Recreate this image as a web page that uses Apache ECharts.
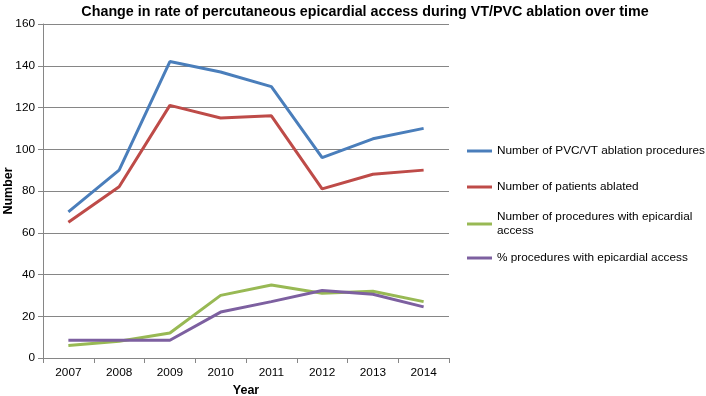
<!DOCTYPE html>
<html><head><meta charset="utf-8">
<script src="https://cdn.jsdelivr.net/npm/echarts@6/dist/echarts.min.js"></script>
<style>html,body{margin:0;padding:0;background:#fff}#c{width:706px;height:396px}</style>
</head><body><div id="c"></div>
<script>
var years = ['2007','2008','2009','2010','2011','2012','2013','2014'];
var seriesNames = ['Number of PVC/VT ablation procedures','Number of patients ablated','Number of procedures with epicardial access','% procedures with epicardial access'];
var procedures = [70, 90, 142, 137, 130, 96, 105, 110];
var patients = [65, 82, 121, 115, 116, 81, 88, 90];
var epicardial = [6, 8, 12, 30, 35, 31, 32, 27];
var pctEpicardial = [8.5, 8.5, 8.5, 22, 27, 32.3, 30.5, 24.5];
var yTicks = {min: 0, max: 160, interval: 20};
var colors = ['#4a7ebb', '#be4b48', '#98b954', '#7d60a0'];
var dataArr = [procedures, patients, epicardial, pctEpicardial];

var font = 'Liberation Sans, Arial, sans-serif';
var legendTops = [144, 180, 203, 251];
var legends = seriesNames.map(function(n, i){
  var ts = {fontFamily: font, fontSize: 11.8, color: '#000', lineHeight: 14};
  if (i === 2) ts.padding = [14, 0, 0, 0];
  return {
    data: [n], left: 467, top: legendTops[i], padding: 0, orient: 'vertical',
    itemWidth: 25, itemHeight: 3, itemGap: 0, icon: 'rect',
    textStyle: ts,
    formatter: function(name){ return name === seriesNames[2] ? 'Number of procedures with epicardial\naccess' : name; }
  };
});

var chart = echarts.init(document.getElementById('c'));
chart.setOption({
  animation: false,
  color: colors,
  title: {text: 'Change in rate of percutaneous epicardial access during VT/PVC ablation over time',
    left: 360, textAlign: 'center', top: 0,
    textStyle: {fontFamily: font, fontSize: 14.3, fontWeight: 'bold', color: '#000'}},
  legend: legends,
  grid: {left: 43, right: 257, top: 24, bottom: 38, containLabel: false, outerBoundsMode: 'none'},
  xAxis: {type: 'category', data: years, boundaryGap: true,
    name: 'Year', nameLocation: 'middle', nameGap: 26, nameMoveOverlap: false,
    nameTextStyle: {fontFamily: font, fontSize: 12.5, fontWeight: 'bold', color: '#000'},
    axisLine: {lineStyle: {color: '#868686', width: 1}},
    axisTick: {show: true, length: 5, lineStyle: {color: '#868686'}},
    axisLabel: {fontFamily: font, fontSize: 11.8, color: '#000', margin: 9}},
  yAxis: {type: 'value', min: yTicks.min, max: yTicks.max, interval: yTicks.interval,
    name: 'Number', nameLocation: 'middle', nameGap: 28, nameMoveOverlap: false,
    nameTextStyle: {fontFamily: font, fontSize: 12.5, fontWeight: 'bold', color: '#000'},
    axisLine: {show: true, lineStyle: {color: '#868686', width: 1}},
    axisTick: {show: true, length: 5, lineStyle: {color: '#868686'}},
    splitLine: {lineStyle: {color: '#868686', width: 1}},
    axisLabel: {fontFamily: font, fontSize: 11.8, color: '#000', margin: 8}},
  series: seriesNames.map(function(n, i){
    return {name: n, type: 'line', data: dataArr[i], symbol: 'none',
      lineStyle: {width: 3, color: colors[i]}, itemStyle: {color: colors[i]}};
  })
});
</script></body></html>
